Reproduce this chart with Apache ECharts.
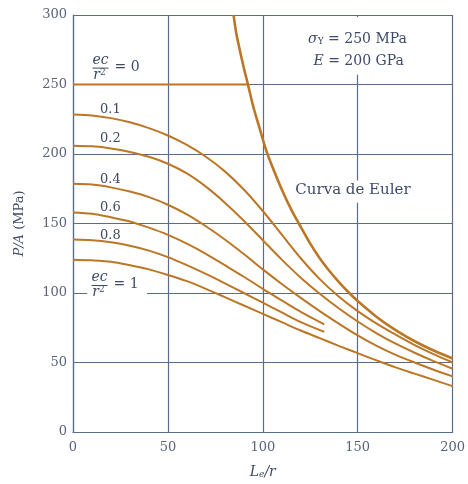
<!DOCTYPE html>
<html>
<head>
<meta charset="utf-8">
<script src="https://cdn.jsdelivr.net/npm/echarts@6/dist/echarts.min.js"></script>
<style>
  html, body { margin: 0; padding: 0; background: #ffffff; }
  #chart { width: 468px; height: 484px; }
</style>
</head>
<body>
<div id="chart"></div>
<script>
// Slenderness ratio Le/r sampled along the secant-formula curves
const slenderness = [0, 10, 20, 30, 40, 50, 60, 70, 80, 90, 100, 110, 120, 130, 140, 150, 160, 170, 180, 190, 200];
const slendernessShort = [0, 10, 20, 30, 40, 50, 60, 70, 80, 90, 100, 110, 120, 132.4];

// Average stress P/A (MPa) for each eccentricity ratio ec/r^2
const stress01 = [228.5, 227.7, 225.8, 222.8, 218.6, 213.3, 206.5, 198, 187.5, 174.5, 159, 142, 125, 110, 97.5, 87, 78, 70, 62.5, 56, 50];
const stress02 = [206, 205.5, 204, 201.5, 198, 193, 186, 176.5, 165, 152, 138, 124, 111, 99.5, 89, 79.5, 71, 63.5, 57, 51, 45.5];
const stress04 = [178.6, 178, 176, 173, 169, 163.5, 156.5, 148, 138.5, 128, 117, 106.5, 96.5, 87, 78, 69.5, 62, 55.5, 50, 44.8, 40];
const stress06 = [158, 157, 154.5, 151.5, 147, 141.8, 135.5, 128.2, 120, 111.7, 103, 94.7, 86.5, 77.5];
const stress08 = [138.5, 138, 136.5, 134, 130.5, 125.8, 120, 113.7, 107, 100, 93, 86, 79, 72];
const stress10 = [124, 123.5, 122.5, 120, 117, 113, 108.5, 103, 97, 91, 85, 79, 73, 67.5, 62, 56.7, 51.5, 46.5, 42, 37.5, 33];

// ec/r^2 = 0: yield plateau up to the Euler curve
const yieldX = [0, 92.1];
const yieldY = [250, 250];

// Euler curve
const eulerX = [84.6, 86, 88, 90, 92, 95, 98, 101.7, 105, 110, 115, 119, 125, 130, 135, 140, 145, 150, 160, 170, 180, 190, 200];
const eulerY = [300, 287, 274, 262, 251, 234, 220, 203, 191, 174.5, 160, 150, 135.5, 125, 116, 108, 100.7, 94.2, 82.8, 73.3, 65.3, 58.6, 52.9];

const CURVE = '#bb7726';
const GRID = '#5a6c8b';
const TEXT = '#3e4a68';
const TICK = '#5b6479';
const SERIF = '"DejaVu Serif", "Liberation Serif", serif';

const pairs = (xs, ys) => xs.map((x, i) => [x, ys[i]]);

function curve(name, xs, ys, width) {
  return {
    name: name,
    type: 'line',
    data: pairs(xs, ys),
    smooth: 0.3,
    symbol: 'none',
    silent: true,
    clip: true,
    z: 3,
    lineStyle: { color: CURVE, width: width || 2 }
  };
}

const chart = echarts.init(document.getElementById('chart'), null, { renderer: 'canvas' });

chart.setOption({
  animation: false,
  backgroundColor: '#ffffff',
  grid: { left: 73, right: 10, top: 15, bottom: 45, containLabel: false },
  xAxis: {
    type: 'value', min: 0, max: 200, interval: 50,
    axisLine: { show: true, lineStyle: { color: GRID, width: 1.2 } },
    axisTick: { show: false },
    splitLine: { show: true, lineStyle: { color: GRID, width: 1.2 } },
    axisLabel: { color: TICK, fontFamily: SERIF, fontSize: 13, margin: 9 },
    name: '{i|L}{s|e}{i|/r}',
    nameLocation: 'middle',
    nameGap: 33,
    nameTextStyle: {
      color: TEXT,
      rich: {
        i: { fontFamily: SERIF, fontStyle: 'italic', fontSize: 14, color: TEXT },
        s: { fontFamily: SERIF, fontStyle: 'italic', fontSize: 9, color: TEXT, verticalAlign: 'bottom' }
      }
    }
  },
  yAxis: {
    type: 'value', min: 0, max: 300, interval: 50,
    axisLine: { show: true, lineStyle: { color: GRID, width: 1.2 } },
    axisTick: { show: false },
    splitLine: { show: true, lineStyle: { color: GRID, width: 1.2 } },
    axisLabel: { color: TICK, fontFamily: SERIF, fontSize: 13, margin: 6 },
    name: '{i|P/A} (MPa)',
    nameLocation: 'middle',
    nameGap: 47,
    nameRotate: 90,
    nameTextStyle: {
      color: TEXT, fontFamily: SERIF, fontSize: 13,
      rich: {
        i: { fontFamily: SERIF, fontStyle: 'italic', fontSize: 13, color: TEXT }
      }
    }
  },
  series: [
    curve('ec/r2 = 0', yieldX, yieldY, 2.2),
    curve('ec/r2 = 0.1', slenderness, stress01),
    curve('ec/r2 = 0.2', slenderness, stress02),
    curve('ec/r2 = 0.4', slenderness, stress04),
    curve('ec/r2 = 0.6', slendernessShort, stress06),
    curve('ec/r2 = 0.8', slendernessShort, stress08),
    curve('ec/r2 = 1', slenderness, stress10),
    curve('Euler', eulerX, eulerY, 2.6)
  ]
});

// ---- annotations, anchored in data space ----
const P = (x, y) => chart.convertToPixel({ gridIndex: 0 }, [x, y]);
const font = (size, italic) => (italic ? 'italic ' : '') + size + 'px ' + SERIF;

function fractionLabel(anchor, rhs) {
  const [cx, cy] = P(anchor[0], anchor[1]);
  return [
    { type: 'text', x: cx, y: cy - 1, z: 20,
      style: { text: 'ec', font: font(14, true), fill: TEXT, align: 'center', verticalAlign: 'bottom' } },
    { type: 'line', z: 20, shape: { x1: cx - 8, y1: cy, x2: cx + 8, y2: cy },
      style: { stroke: TEXT, lineWidth: 1 } },
    { type: 'text', x: cx - 1, y: cy, z: 20,
      style: {
        text: '{i|r}{s|2}', align: 'center', verticalAlign: 'top',
        rich: {
          i: { font: font(14, true), fill: TEXT },
          s: { font: font(9, false), fill: TEXT, verticalAlign: 'top' }
        }
      } },
    { type: 'text', x: cx + 14, y: cy - 1, z: 20,
      style: { text: rhs, font: font(14, false), fill: TEXT, align: 'left', verticalAlign: 'middle' } }
  ];
}

function plainLabel(anchor, text, size) {
  const [x, y] = P(anchor[0], anchor[1]);
  return { type: 'text', x: x, y: y, z: 20,
    style: { text: text, font: font(size || 13, false), fill: TEXT, align: 'center', verticalAlign: 'middle' } };
}

function whiteBox(a, b) {
  const [x1, y1] = P(a[0], a[1]);
  const [x2, y2] = P(b[0], b[1]);
  return { type: 'rect', z: 15, shape: { x: x1, y: y1, width: x2 - x1, height: y2 - y1 },
    style: { fill: '#ffffff' } };
}

const graphics = [];
// clear space behind text blocks
graphics.push(whiteBox([120.5, 298.5], [179, 257]));
graphics.push(whiteBox([116, 181], [180, 165]));
graphics.push(whiteBox([7.5, 113], [39, 98]));

graphics.push(...fractionLabel([14.5, 261.8], '= 0'));
graphics.push(...fractionLabel([14.0, 105.4], '= 1'));

graphics.push(plainLabel([19.7, 232.1], '0.1'));
graphics.push(plainLabel([19.7, 210.9], '0.2'));
graphics.push(plainLabel([19.7, 181.5], '0.4'));
graphics.push(plainLabel([19.7, 161.3], '0.6'));
graphics.push(plainLabel([19.7, 141.5], '0.8'));

graphics.push(plainLabel([147.5, 174.1], 'Curva de Euler', 15));

(function () {
  const [x1, y1] = P(149.9, 282.8);
  const [x2, y2] = P(150.5, 266.3);
  graphics.push({ type: 'text', x: x1, y: y1, z: 20,
    style: {
      text: '{g|σ}{s|Y}{n| = 250 MPa}', align: 'center', verticalAlign: 'middle',
      rich: {
        g: { font: font(14, true), fill: TEXT },
        s: { font: font(9, false), fill: TEXT, verticalAlign: 'bottom' },
        n: { font: font(14, false), fill: TEXT }
      }
    } });
  graphics.push({ type: 'text', x: x2, y: y2, z: 20,
    style: {
      text: '{e|E}{n| = 200 GPa}', align: 'center', verticalAlign: 'middle',
      rich: {
        e: { font: font(14, true), fill: TEXT },
        n: { font: font(14, false), fill: TEXT }
      }
    } });
})();

chart.setOption({ graphic: graphics });
</script>
</body>
</html>
